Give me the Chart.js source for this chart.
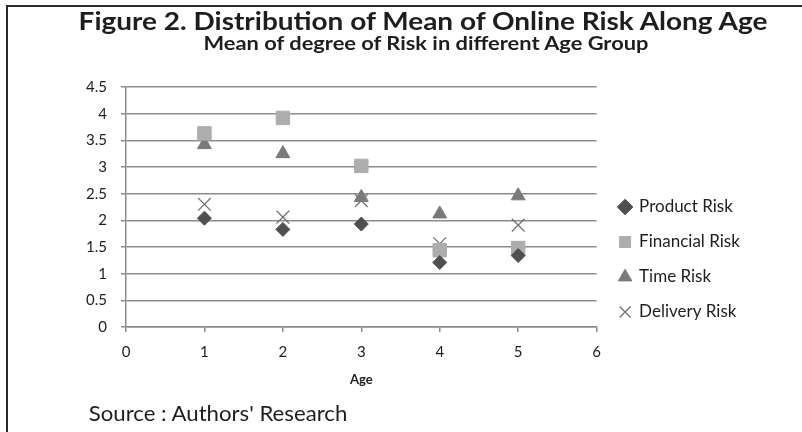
<!DOCTYPE html>
<html>
<head>
<meta charset="utf-8">
<script src="https://cdn.jsdelivr.net/npm/chart.js@4.4.1/dist/chart.umd.min.js"></script>
<style>
    html, body { margin: 0; padding: 0; background: #fff; }
    #wrap { position: relative; width: 802px; height: 432px; overflow: hidden; font-family: Lato, "Open Sans", sans-serif; color: #1e1e1e; }
    #frame { position: absolute; left: 6px; top: 5px; width: 800px; height: 430px; border-top: 2px solid #2a2a2a; border-left: 2px solid #2a2a2a; }
    #chart { position: absolute; left: 0; top: 0; }
    .txt { position: absolute; white-space: nowrap; line-height: 1; }
    #title { top: 20px; font-size: 25px; font-weight: 700; }
    #subtitle { top: 42px; font-size: 19px; font-weight: 700; }
    #source { top: 412px; font-size: 21px; }
</style>
</head>
<body>
<div id="wrap">
    <div id="frame"></div>
    <canvas id="chart" width="802" height="432"></canvas>
    <div class="txt" id="title">Figure 2. Distribution of Mean of Online Risk Along Age</div>
    <div class="txt" id="subtitle">Mean of degree of Risk in different Age Group</div>
    <div class="txt" id="source">Source : Authors' Research</div>
</div>
<script>
    "use strict";

    // data
    const ages = [1, 2, 3, 4, 5];
    const productRisk = [2.04, 1.83, 1.93, 1.21, 1.34];
    const financialRisk = [3.63, 3.92, 3.02, 1.44, 1.48];
    const timeRisk = [3.42, 3.25, 2.43, 2.12, 2.46];
    const deliveryRisk = [2.30, 2.06, 2.37, 1.56, 1.91];

    const xMin = 0, xMax = 6, xStep = 1;
    const yMin = 0, yMax = 4.5, yStep = 0.5;
    const xTitle = 'Age';

    function points(values) {
        return ages.map(function (a, i) { return {x: a, y: values[i]}; });
    }

    // stretch a text line so it spans from x0 to x1 (the source figure is a bit wide)
    function fitText(id, x0, x1) {
        var el = document.getElementById(id);
        var k = (x1 - x0) / el.offsetWidth;
        el.style.left = ((x0 + x1) / 2) + 'px';
        el.style.transform = 'translate(-50%, -50%) scaleX(' + k.toFixed(3) + ')';
    }
    fitText('title', 78, 767);
    fitText('subtitle', 203, 648);
    fitText('source', 88, 347);

    const axisColor = '#8c8c8c';
    const textColor = '#1e1e1e';
    const legendSize = 17;

    // leave just enough room on the right so the plot ends at x = 597
    const ctx = document.getElementById('chart').getContext('2d');
    ctx.font = legendSize + 'px Lato';
    const legendTextW = ctx.measureText('Delivery Risk').width;
    const legendPad = 18, legendBox = 11;
    const legendW = legendPad + legendBox + legendSize / 2 + legendTextW + 10;
    const padRight = Math.max(0, 802 - 597 - legendW - 3);

    // nudge the legend a little away from the plot
    const legendNudge = {
        id: 'legendNudge',
        afterLayout: function (chart) {
            if (chart.legend) {
                chart.legend.left += 5;
                chart.legend.right += 5;
            }
        }
    };

    var data = {
        datasets: [{
            label: 'Product Risk',
            data: points(productRisk),
            pointStyle: 'rectRot',
            pointRadius: 7,
            backgroundColor: '#4f4f4f',
            borderColor: '#4f4f4f',
            borderWidth: 1
        }, {
            label: 'Financial Risk',
            data: points(financialRisk),
            pointStyle: 'rect',
            pointRadius: 9.5,
            backgroundColor: '#adadad',
            borderColor: '#adadad',
            borderWidth: 1
        }, {
            label: 'Time Risk',
            data: points(timeRisk),
            pointStyle: 'triangle',
            pointRadius: 8,
            backgroundColor: '#7a7a7a',
            borderColor: '#7a7a7a',
            borderWidth: 1
        }, {
            label: 'Delivery Risk',
            data: points(deliveryRisk),
            pointStyle: 'crossRot',
            pointRadius: 9,
            backgroundColor: '#707070',
            borderColor: '#707070',
            borderWidth: 1.2
        }]
    };

    var options = {
        responsive: false,
        animation: false,
        devicePixelRatio: 1,
        layout: {
            padding: {top: 87, left: 20, bottom: 40, right: padRight}
        },
        plugins: {
            tooltip: {enabled: false},
            legend: {
                position: 'right',
                align: 'start',
                title: {
                    display: true,
                    text: '',
                    font: {size: 10},
                    padding: {top: 0, bottom: 81.5}
                },
                labels: {
                    usePointStyle: true,
                    boxWidth: legendBox,
                    boxHeight: legendBox,
                    padding: legendPad,
                    color: textColor,
                    font: {family: 'Lato', size: legendSize}
                }
            }
        },
        scales: {
            x: {
                type: 'linear',
                position: 'bottom',
                min: xMin,
                max: xMax,
                afterFit: function (scale) { scale.height = 65; },
                ticks: {
                    stepSize: xStep,
                    padding: 11,
                    color: textColor,
                    font: {family: 'Lato', size: 15}
                },
                grid: {
                    drawOnChartArea: false,
                    drawTicks: true,
                    tickLength: 5,
                    color: axisColor,
                    lineWidth: 1.5
                },
                border: {color: axisColor, width: 1.5},
                title: {
                    display: true,
                    text: xTitle,
                    color: textColor,
                    font: {family: 'Lato', size: 13, weight: 'bold'},
                    padding: {top: 0, bottom: 4}
                }
            },
            y: {
                min: yMin,
                max: yMax,
                afterFit: function (scale) { scale.width = 106; },
                ticks: {
                    stepSize: yStep,
                    padding: 14,
                    color: textColor,
                    font: {family: 'Lato', size: 15},
                    callback: function (v) { return String(Math.round(v * 10) / 10); }
                },
                grid: {
                    drawTicks: true,
                    tickLength: 5,
                    color: axisColor,
                    lineWidth: 1.5
                },
                border: {color: axisColor, width: 1.5}
            }
        }
    };

    new Chart(ctx, {
        type: 'scatter',
        data: data,
        options: options,
        plugins: [legendNudge]
    });
</script>
</body>
</html>
